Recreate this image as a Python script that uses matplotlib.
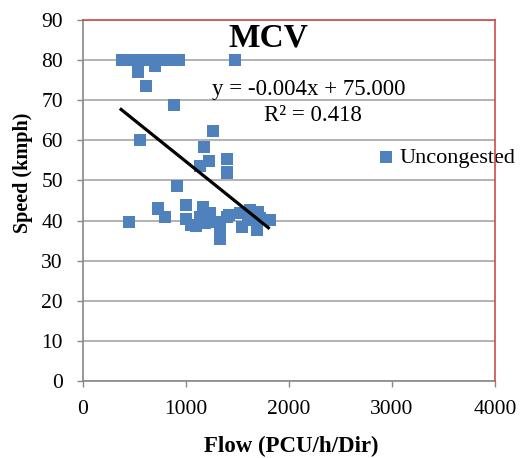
import matplotlib
matplotlib.use("Agg")
import matplotlib.pyplot as plt

# values
flow = [379, 456, 534, 612, 689, 767, 845, 932, 1475,
        534, 700, 612, 885, 553, 1262, 1175, 1223, 1136, 1398, 1398,
        447, 728, 796, 913, 1000, 1000, 1050, 1100, 1165, 1136, 1184,
        1233, 1282, 1330, 1330, 1398, 1420, 1524, 1544, 1602, 1620,
        1699, 1689, 1720, 1815]
speed = [80, 80, 80, 80, 80, 80, 80, 80, 80,
         77, 78.5, 73.5, 68.8, 60, 62.3, 58.3, 54.8, 53.6, 55.3, 52,
         39.6, 43.0, 40.9, 48.6, 43.9, 40.3, 38.9, 38.6, 43.4, 40.9, 39.4,
         41.9, 39.6, 38.1, 35.4, 40.9, 41.4, 41.9, 38.4, 40.1, 42.6,
         42.1, 37.6, 40.5, 40.1]
trend_x = [370, 1800]
trend_y = [67.7, 38.2]
x_ticks = [0, 1000, 2000, 3000, 4000]
y_ticks = [0, 10, 20, 30, 40, 50, 60, 70, 80, 90]

plt.rcParams["font.family"] = ["Liberation Serif", "DejaVu Serif"]

fig = plt.figure(figsize=(5.24, 4.58), dpi=100)
ax = fig.add_axes([0.1584, 0.1681, 0.7863, 0.7882])

ax.scatter(flow, speed, marker="s", s=78, color="#4f81bd", edgecolors="none",
           label="Uncongested", zorder=3)
ax.plot(trend_x, trend_y, color="black", lw=2.3, zorder=4)

ax.set_xlim(0, 4000)
ax.set_ylim(0, 90)
ax.set_xticks(x_ticks)
ax.set_yticks(y_ticks)
ax.tick_params(labelsize=15.5, length=4.5, width=1, color="#888888")
ax.tick_params(axis="y", pad=10)
ax.tick_params(axis="x", pad=9)

ax.grid(axis="y", color="#a6a6a6", lw=1.2)
ax.set_axisbelow(True)
for s in ["left", "bottom"]:
    ax.spines[s].set_color("#888888")
    ax.spines[s].set_linewidth(1.2)
for s in ["top", "right"]:
    ax.spines[s].set_color("#cc4c4c")
    ax.spines[s].set_linewidth(1.2)
    ax.spines[s].set_zorder(6)

ax.set_xlabel("Flow (PCU/h/Dir)", fontsize=16.5, fontweight="bold")
ax.set_ylabel("Speed (kmph)", fontsize=14.5, fontweight="bold")
ax.xaxis.set_label_coords(0.505, -0.152)
ax.yaxis.set_label_coords(-0.122, 0.578)

ax.text(1800, 83.5, "MCV", fontsize=24, fontweight="bold", ha="center", va="baseline")
ax.text(2190, 71.3, "y = -0.004x + 75.000", fontsize=16.5, ha="center", va="baseline")
ax.text(2230, 64.8, "R² = 0.418", fontsize=16.5, ha="center", va="baseline")

leg = ax.legend(loc="center left", bbox_to_anchor=(0.72, 0.618), frameon=False,
                fontsize=16, handlelength=0.6, handletextpad=0.3, borderpad=0,
                borderaxespad=0)

fig.savefig("out.png", dpi=100)
